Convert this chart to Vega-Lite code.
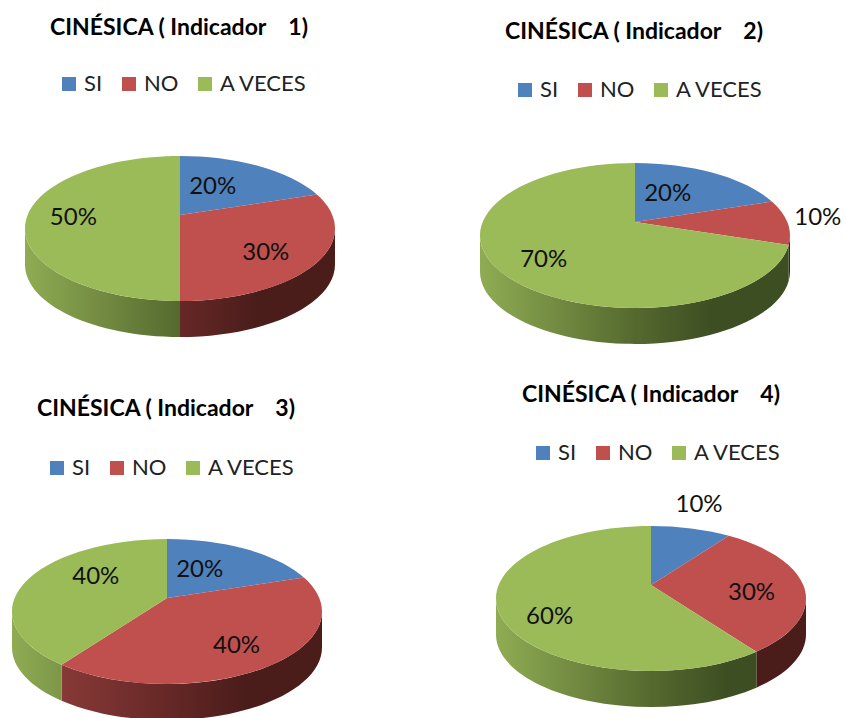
{
"$schema":"https://vega.github.io/schema/vega-lite/v6.json",
"background":"white","padding":0,
"config":{"view":{"stroke":null},"concat":{"spacing":0},"font":"Lato"},
"data":{"values":[
{"chart":1,"slice":"SI","value":20},{"chart":1,"slice":"NO","value":30},{"chart":1,"slice":"A VECES","value":50},
{"chart":2,"slice":"SI","value":20},{"chart":2,"slice":"NO","value":10},{"chart":2,"slice":"A VECES","value":70},
{"chart":3,"slice":"SI","value":20},{"chart":3,"slice":"NO","value":40},{"chart":3,"slice":"A VECES","value":40},
{"chart":4,"slice":"SI","value":10},{"chart":4,"slice":"NO","value":30},{"chart":4,"slice":"A VECES","value":60}
]},
"transform":[
{"stack":"value","groupby":["chart"],"sort":[{"field":"slice","order":"descending"}],"as":["v0","v1"]},
{"calculate":"datum.v0/100*2*PI","as":"th1"},
{"calculate":"datum.v1/100*2*PI","as":"th2"},
{"calculate":"(datum.th1+datum.th2)/2","as":"thm"},
{"calculate":"round(15230*sin(datum.th1)/(1+0.186*cos(datum.th1)))/100","as":"x1"},
{"calculate":"round(-7000*cos(datum.th1)/(1+0.186*cos(datum.th1)))/100","as":"y1"},
{"calculate":"round(15230*sin(datum.thm)/(1+0.186*cos(datum.thm)))/100","as":"xm"},
{"calculate":"round(-7000*cos(datum.thm)/(1+0.186*cos(datum.thm)))/100","as":"ym"},
{"calculate":"round(15230*sin(datum.th2)/(1+0.186*cos(datum.th2)))/100","as":"x2"},
{"calculate":"round(-7000*cos(datum.th2)/(1+0.186*cos(datum.th2)))/100","as":"y2"},
{"calculate":"'M0,0L'+datum.x1+','+datum.y1+'A155,72.5 0 0 1 '+datum.xm+','+datum.ym+'A155,72.5 0 0 1 '+datum.x2+','+datum.y2+'Z'","as":"top"},
{"calculate":"(atan2(datum.x1/155,(13.5-datum.y1)/72.5)+2*PI)%(2*PI)","as":"t1"},
{"calculate":"datum.v1>=100?2*PI:(atan2(datum.x2/155,(13.5-datum.y2)/72.5)+2*PI)%(2*PI)","as":"t2"},
{"calculate":"clamp(datum.t1,PI/2,3*PI/2)","as":"w1"},
{"calculate":"clamp(datum.t2,PI/2,3*PI/2)","as":"w2"},
{"calculate":"round(15500*sin(datum.w1))/100","as":"ex1"},
{"calculate":"round(15500*sin(datum.w2))/100","as":"ex2"},
{"calculate":"round(1350-7250*cos(datum.w1))/100","as":"ey1"},
{"calculate":"round(1350-7250*cos(datum.w2))/100","as":"ey2"},
{"calculate":"'M-155,13.5L155,13.5ZM'+datum.ex1+','+datum.ey1+'A155,72.5 0 0 1 '+datum.ex2+','+datum.ey2+'L'+datum.ex2+','+(datum.ey2+36)+'A155,72.5 0 0 0 '+datum.ex1+','+(datum.ey1+36)+'Z'","as":"wall"},
{"calculate":"datum.value+'%'","as":"label"},
{"calculate":"datum.value<=10?1.2*datum.xm:datum.thm<1?0.42*datum.xm:(datum.thm>4.9&&datum.thm<5.2)?0.52*datum.xm:(datum.thm>4.6&&datum.thm<4.9)?0.7*datum.xm:(datum.thm>2&&datum.thm<2.4)?0.62*datum.xm:0.66*datum.xm","as":"lx"},
{"calculate":"datum.value<=10?1.35*datum.ym-4:datum.thm<1?0.57*datum.ym:(datum.thm>4.9&&datum.thm<5.2)?datum.ym-1:(datum.thm>4.6&&datum.thm<4.9)?3:(datum.thm>4.3&&datum.thm<4.6)?0.66*datum.ym+17:(datum.thm>2.4&&datum.thm<2.7)?0.66*datum.ym+4:0.66*datum.ym+8","as":"ly"}
],
"columns":2,"bounds":"flush","spacing":0,
"concat":[
{"width":423,"height":370,"transform":[{"filter":"datum.chart==1"}],
"title":{"text":"CINÉSICA ( Indicador \u00a0\u00a0\u00a01)","anchor":"start","dx":50,"dy":44,"fontSize":23,"font":"Lato","fontWeight":"bold","color":"#000000"},
"layer":[
{"transform":[{"filter":"datum.slice=='NO'&&datum.w2>datum.w1+0.001"}],"mark":{"type":"point","filled":true,"opacity":1,"size":4,"strokeWidth":0,"clip":true,"fill":{"gradient":"linear","x1":0,"x2":1,"y1":0,"y2":0,"stops":[{"offset":0,"color":"#96423F"},{"offset":0.5,"color":"#662826"},{"offset":0.75,"color":"#4A1D1B"},{"offset":1,"color":"#4A1D1B"}]}},
"encoding":{"x":{"datum":0,"type":"quantitative","scale":{"domain":[-180,243]},"axis":null},"y":{"datum":0,"type":"quantitative","scale":{"domain":[-215,155],"reverse":true},"axis":null},"shape":{"field":"wall","type":"nominal","scale":null,"legend":null}}},
{"transform":[{"filter":"datum.slice=='A VECES'&&datum.w2>datum.w1+0.001"}],"mark":{"type":"point","filled":true,"opacity":1,"size":4,"strokeWidth":0,"clip":true,"fill":{"gradient":"linear","x1":0,"x2":1,"y1":0,"y2":0,"stops":[{"offset":0,"color":"#8FAC53"},{"offset":0.5,"color":"#55692F"},{"offset":0.75,"color":"#3D4E22"},{"offset":1,"color":"#3D4E22"}]}},
"encoding":{"x":{"datum":0,"type":"quantitative","scale":{"domain":[-180,243]},"axis":null},"y":{"datum":0,"type":"quantitative","scale":{"domain":[-215,155],"reverse":true},"axis":null},"shape":{"field":"wall","type":"nominal","scale":null,"legend":null}}},
{"mark":{"type":"point","filled":true,"opacity":1,"size":4,"strokeWidth":0,"clip":true},
"encoding":{"x":{"datum":0,"type":"quantitative","scale":{"domain":[-180,243]},"axis":null},"y":{"datum":0,"type":"quantitative","scale":{"domain":[-215,155],"reverse":true},"axis":null},"shape":{"field":"top","type":"nominal","scale":null,"legend":null},
"color":{"field":"slice","type":"nominal","scale":{"domain":["SI","NO","A VECES"],"range":["#4F81BD","#C0504D","#9BBB59"]},"legend":{"title":null,"orient":"none","legendX":58,"legendY":72,"direction":"horizontal","symbolType":"square","symbolSize":196,"symbolStrokeWidth":0,"labelFont":"Lato","labelFontSize":22,"labelColor":"#222222","labelOffset":4,"columnPadding":15,"clipHeight":24}}}},
{"mark":{"type":"text","font":"Lato","fontSize":24,"color":"#111111","align":"center","baseline":"middle"},
"encoding":{"x":{"field":"lx","type":"quantitative","scale":{"domain":[-180,243]},"axis":null},"y":{"field":"ly","type":"quantitative","scale":{"domain":[-215,155],"reverse":true},"axis":null},"text":{"field":"label"}}}
]},
{"width":423,"height":370,"transform":[{"filter":"datum.chart==2"}],
"title":{"text":"CINÉSICA ( Indicador \u00a0\u00a0\u00a02)","anchor":"start","dx":82,"dy":48,"fontSize":23,"font":"Lato","fontWeight":"bold","color":"#000000"},
"layer":[
{"transform":[{"filter":"datum.slice=='NO'&&datum.w2>datum.w1+0.001"}],"mark":{"type":"point","filled":true,"opacity":1,"size":4,"strokeWidth":0,"clip":true,"fill":{"gradient":"linear","x1":0,"x2":1,"y1":0,"y2":0,"stops":[{"offset":0,"color":"#96423F"},{"offset":0.5,"color":"#662826"},{"offset":0.75,"color":"#4A1D1B"},{"offset":1,"color":"#4A1D1B"}]}},
"encoding":{"x":{"datum":0,"type":"quantitative","scale":{"domain":[-212,211]},"axis":null},"y":{"datum":0,"type":"quantitative","scale":{"domain":[-222,148],"reverse":true},"axis":null},"shape":{"field":"wall","type":"nominal","scale":null,"legend":null}}},
{"transform":[{"filter":"datum.slice=='A VECES'&&datum.w2>datum.w1+0.001"}],"mark":{"type":"point","filled":true,"opacity":1,"size":4,"strokeWidth":0,"clip":true,"fill":{"gradient":"linear","x1":0,"x2":1,"y1":0,"y2":0,"stops":[{"offset":0,"color":"#8FAC53"},{"offset":0.5,"color":"#55692F"},{"offset":0.75,"color":"#3D4E22"},{"offset":1,"color":"#3D4E22"}]}},
"encoding":{"x":{"datum":0,"type":"quantitative","scale":{"domain":[-212,211]},"axis":null},"y":{"datum":0,"type":"quantitative","scale":{"domain":[-222,148],"reverse":true},"axis":null},"shape":{"field":"wall","type":"nominal","scale":null,"legend":null}}},
{"mark":{"type":"point","filled":true,"opacity":1,"size":4,"strokeWidth":0,"clip":true},
"encoding":{"x":{"datum":0,"type":"quantitative","scale":{"domain":[-212,211]},"axis":null},"y":{"datum":0,"type":"quantitative","scale":{"domain":[-222,148],"reverse":true},"axis":null},"shape":{"field":"top","type":"nominal","scale":null,"legend":null},
"color":{"field":"slice","type":"nominal","scale":{"domain":["SI","NO","A VECES"],"range":["#4F81BD","#C0504D","#9BBB59"]},"legend":{"title":null,"orient":"none","legendX":91,"legendY":78,"direction":"horizontal","symbolType":"square","symbolSize":196,"symbolStrokeWidth":0,"labelFont":"Lato","labelFontSize":22,"labelColor":"#222222","labelOffset":4,"columnPadding":15,"clipHeight":24}}}},
{"mark":{"type":"text","font":"Lato","fontSize":24,"color":"#111111","align":"center","baseline":"middle"},
"encoding":{"x":{"field":"lx","type":"quantitative","scale":{"domain":[-212,211]},"axis":null},"y":{"field":"ly","type":"quantitative","scale":{"domain":[-222,148],"reverse":true},"axis":null},"text":{"field":"label"}}}
]},
{"width":423,"height":348,"transform":[{"filter":"datum.chart==3"}],
"title":{"text":"CINÉSICA ( Indicador \u00a0\u00a0\u00a03)","anchor":"start","dx":37,"dy":55,"fontSize":23,"font":"Lato","fontWeight":"bold","color":"#000000"},
"layer":[
{"transform":[{"filter":"datum.slice=='NO'&&datum.w2>datum.w1+0.001"}],"mark":{"type":"point","filled":true,"opacity":1,"size":4,"strokeWidth":0,"clip":true,"fill":{"gradient":"linear","x1":0,"x2":1,"y1":0,"y2":0,"stops":[{"offset":0,"color":"#96423F"},{"offset":0.5,"color":"#662826"},{"offset":0.75,"color":"#4A1D1B"},{"offset":1,"color":"#4A1D1B"}]}},
"encoding":{"x":{"datum":0,"type":"quantitative","scale":{"domain":[-167,256]},"axis":null},"y":{"datum":0,"type":"quantitative","scale":{"domain":[-228,120],"reverse":true},"axis":null},"shape":{"field":"wall","type":"nominal","scale":null,"legend":null}}},
{"transform":[{"filter":"datum.slice=='A VECES'&&datum.w2>datum.w1+0.001"}],"mark":{"type":"point","filled":true,"opacity":1,"size":4,"strokeWidth":0,"clip":true,"fill":{"gradient":"linear","x1":0,"x2":1,"y1":0,"y2":0,"stops":[{"offset":0,"color":"#8FAC53"},{"offset":0.5,"color":"#55692F"},{"offset":0.75,"color":"#3D4E22"},{"offset":1,"color":"#3D4E22"}]}},
"encoding":{"x":{"datum":0,"type":"quantitative","scale":{"domain":[-167,256]},"axis":null},"y":{"datum":0,"type":"quantitative","scale":{"domain":[-228,120],"reverse":true},"axis":null},"shape":{"field":"wall","type":"nominal","scale":null,"legend":null}}},
{"mark":{"type":"point","filled":true,"opacity":1,"size":4,"strokeWidth":0,"clip":true},
"encoding":{"x":{"datum":0,"type":"quantitative","scale":{"domain":[-167,256]},"axis":null},"y":{"datum":0,"type":"quantitative","scale":{"domain":[-228,120],"reverse":true},"axis":null},"shape":{"field":"top","type":"nominal","scale":null,"legend":null},
"color":{"field":"slice","type":"nominal","scale":{"domain":["SI","NO","A VECES"],"range":["#4F81BD","#C0504D","#9BBB59"]},"legend":{"title":null,"orient":"none","legendX":46,"legendY":86,"direction":"horizontal","symbolType":"square","symbolSize":196,"symbolStrokeWidth":0,"labelFont":"Lato","labelFontSize":22,"labelColor":"#222222","labelOffset":4,"columnPadding":15,"clipHeight":24}}}},
{"mark":{"type":"text","font":"Lato","fontSize":24,"color":"#111111","align":"center","baseline":"middle"},
"encoding":{"x":{"field":"lx","type":"quantitative","scale":{"domain":[-167,256]},"axis":null},"y":{"field":"ly","type":"quantitative","scale":{"domain":[-228,120],"reverse":true},"axis":null},"text":{"field":"label"}}}
]},
{"width":423,"height":348,"transform":[{"filter":"datum.chart==4"}],
"title":{"text":"CINÉSICA ( Indicador \u00a0\u00a0\u00a04)","anchor":"start","dx":99,"dy":41,"fontSize":23,"font":"Lato","fontWeight":"bold","color":"#000000"},
"layer":[
{"transform":[{"filter":"datum.slice=='NO'&&datum.w2>datum.w1+0.001"}],"mark":{"type":"point","filled":true,"opacity":1,"size":4,"strokeWidth":0,"clip":true,"fill":{"gradient":"linear","x1":0,"x2":1,"y1":0,"y2":0,"stops":[{"offset":0,"color":"#96423F"},{"offset":0.5,"color":"#662826"},{"offset":0.75,"color":"#4A1D1B"},{"offset":1,"color":"#4A1D1B"}]}},
"encoding":{"x":{"datum":0,"type":"quantitative","scale":{"domain":[-228,195]},"axis":null},"y":{"datum":0,"type":"quantitative","scale":{"domain":[-215,133],"reverse":true},"axis":null},"shape":{"field":"wall","type":"nominal","scale":null,"legend":null}}},
{"transform":[{"filter":"datum.slice=='A VECES'&&datum.w2>datum.w1+0.001"}],"mark":{"type":"point","filled":true,"opacity":1,"size":4,"strokeWidth":0,"clip":true,"fill":{"gradient":"linear","x1":0,"x2":1,"y1":0,"y2":0,"stops":[{"offset":0,"color":"#8FAC53"},{"offset":0.5,"color":"#55692F"},{"offset":0.75,"color":"#3D4E22"},{"offset":1,"color":"#3D4E22"}]}},
"encoding":{"x":{"datum":0,"type":"quantitative","scale":{"domain":[-228,195]},"axis":null},"y":{"datum":0,"type":"quantitative","scale":{"domain":[-215,133],"reverse":true},"axis":null},"shape":{"field":"wall","type":"nominal","scale":null,"legend":null}}},
{"mark":{"type":"point","filled":true,"opacity":1,"size":4,"strokeWidth":0,"clip":true},
"encoding":{"x":{"datum":0,"type":"quantitative","scale":{"domain":[-228,195]},"axis":null},"y":{"datum":0,"type":"quantitative","scale":{"domain":[-215,133],"reverse":true},"axis":null},"shape":{"field":"top","type":"nominal","scale":null,"legend":null},
"color":{"field":"slice","type":"nominal","scale":{"domain":["SI","NO","A VECES"],"range":["#4F81BD","#C0504D","#9BBB59"]},"legend":{"title":null,"orient":"none","legendX":109,"legendY":71,"direction":"horizontal","symbolType":"square","symbolSize":196,"symbolStrokeWidth":0,"labelFont":"Lato","labelFontSize":22,"labelColor":"#222222","labelOffset":4,"columnPadding":15,"clipHeight":24}}}},
{"mark":{"type":"text","font":"Lato","fontSize":24,"color":"#111111","align":"center","baseline":"middle"},
"encoding":{"x":{"field":"lx","type":"quantitative","scale":{"domain":[-228,195]},"axis":null},"y":{"field":"ly","type":"quantitative","scale":{"domain":[-215,133],"reverse":true},"axis":null},"text":{"field":"label"}}}
]}
],
"resolve":{"scale":{"color":"independent"}}
}
